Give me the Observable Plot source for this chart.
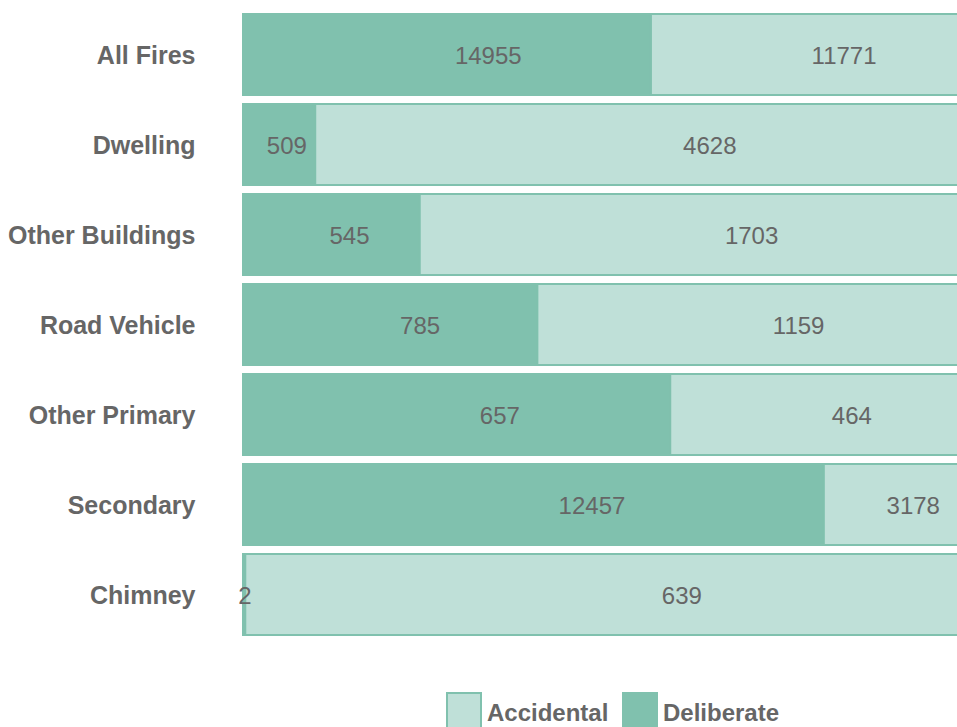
<!DOCTYPE html>
<html>
<head>
<meta charset="utf-8">
<script src="https://cdn.jsdelivr.net/npm/d3@7"></script>
<script src="https://cdn.jsdelivr.net/npm/@observablehq/plot@0.6"></script>
<style>
  html, body { margin: 0; padding: 0; background: white; overflow: hidden; width: 957px; height: 727px; }
  #chart svg { display: block; overflow: hidden; }
  .legend { position: relative; height: 77px; font-family: "Liberation Sans", Arial, sans-serif; font-weight: bold; font-size: 24px; color: #666; }
  .item { position: absolute; top: 42px; display: flex; align-items: flex-start; }
  .sw { height: 40px; border: 2px solid #80c1ae; box-sizing: border-box; width: 36px; }
  .lab { margin-left: 5px; line-height: 40px; padding-top: 1px; }
</style>
</head>
<body>
<div id="chart"></div>
<div class="legend">
  <div class="item" style="left:446px"><div class="sw" style="background:#bfe0d8"></div><div class="lab">Accidental</div></div>
  <div class="item" style="left:622px"><div class="sw" style="background:#80c1ae"></div><div class="lab">Deliberate</div></div>
</div>
<script>
const categories = ["All Fires", "Dwelling", "Other Buildings", "Road Vehicle", "Other Primary", "Secondary", "Chimney"];
const deliberate = [14955, 509, 545, 785, 657, 12457, 2];
const accidental = [11771, 4628, 1703, 1159, 464, 3178, 639];
const seriesNames = ["Deliberate", "Accidental"];
const seriesColors = ["#80c1ae", "#bfe0d8"];

const rows = [];
categories.forEach((c, i) => {
  const total = deliberate[i] + accidental[i];
  const d = deliberate[i] / total;
  rows.push({cat: c, type: "Deliberate", value: deliberate[i], x1: 0, x2: d});
  rows.push({cat: c, type: "Accidental", value: accidental[i], x1: d, x2: 1});
});

const font = "'Liberation Sans', Arial, sans-serif";
const chart = Plot.plot({
  width: 957,
  height: 650,
  marginLeft: 243,
  marginRight: 0,
  marginTop: 5,
  marginBottom: 6,
  style: {fontFamily: font, overflow: "hidden", background: "white"},
  x: {domain: [0, 1], range: [243, 972], axis: null},
  y: {domain: categories, axis: null, padding: 0.1},
  color: {domain: seriesNames, range: seriesColors},
  marks: [
    Plot.barX(rows, {y: "cat", x1: "x1", x2: "x2", fill: "type", stroke: "#80c1ae", strokeWidth: 2}),
    Plot.text(rows, {y: "cat", x: d => d.x1 + 0.6 * (d.x2 - d.x1), dy: 1, text: d => String(d.value), fill: "#666", fontSize: 24}),
    Plot.text(categories, {y: d => d, x: () => 0, dx: -48, dy: 1, textAnchor: "end", text: d => d, fill: "#666", fontSize: 25, fontWeight: "bold"})
  ]
});
document.getElementById("chart").appendChild(chart);
</script>
</body>
</html>
